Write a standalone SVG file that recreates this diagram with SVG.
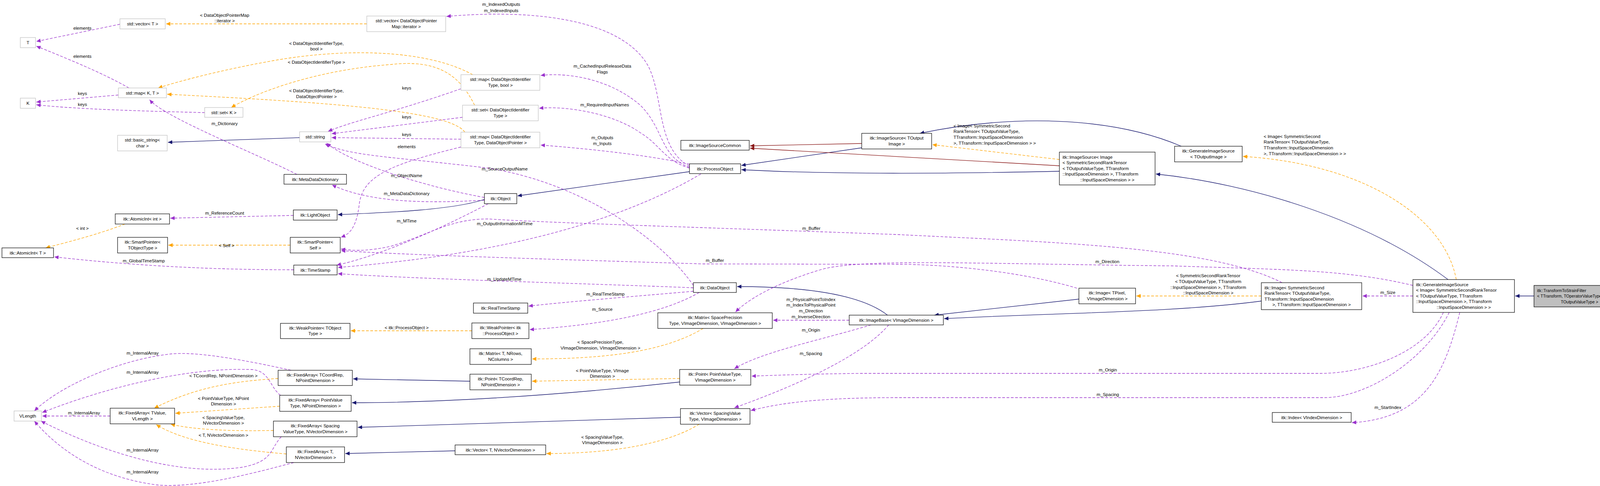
<svg xmlns="http://www.w3.org/2000/svg" width="4165" height="1243" viewBox="0 0 4165 1243">
<style>
text{font-family:"Liberation Sans",Arial,sans-serif;font-size:11.5px;fill:#000}
.n rect{fill:#fff;stroke:#000;stroke-width:1.2}
.g rect{fill:#fff;stroke:#bfbfbf;stroke-width:1.2}
.c{text-anchor:middle}
.e path{fill:none;stroke-width:1.3}
.u{stroke:#9a32cd;stroke-dasharray:7,4;marker-end:url(#mu)}
.t{stroke:#ffa500;stroke-dasharray:7,4;marker-end:url(#mt)}
.i{stroke:#191970;marker-end:url(#mi)}
.p{stroke:#8b1a1a;marker-end:url(#mp)}
.l text{text-anchor:middle}
.s text{font-size:10.5px}
</style>
<defs>
<marker id="mu" markerUnits="userSpaceOnUse" markerWidth="12" markerHeight="10" refX="11" refY="5" orient="auto"><path d="M0,0 L11,5 L0,10 z" fill="#9a32cd"/></marker>
<marker id="mt" markerUnits="userSpaceOnUse" markerWidth="12" markerHeight="10" refX="11" refY="5" orient="auto"><path d="M0,0 L11,5 L0,10 z" fill="#ffa500"/></marker>
<marker id="mi" markerUnits="userSpaceOnUse" markerWidth="12" markerHeight="10" refX="11" refY="5" orient="auto"><path d="M0,0 L11,5 L0,10 z" fill="#191970"/></marker>
<marker id="mp" markerUnits="userSpaceOnUse" markerWidth="12" markerHeight="10" refX="11" refY="5" orient="auto"><path d="M0,0 L11,5 L0,10 z" fill="#8b1a1a"/></marker>
</defs>
<rect width="4165" height="1243" fill="#fff"/>
<g id="connectors" class="e">
<path class="u" d="M307,62 L93,106"/>
<path class="u" d="M330,225 C260,185 160,145 93,118"/>
<path class="u" d="M303,243 L93,261"/>
<path class="u" d="M524,288 C400,285 200,280 93,268"/>
<path class="t" d="M939,61 L425,61"/>
<path class="t" d="M1210,191 C1100,130 900,120 700,155 C560,180 450,210 405,225"/>
<path class="t" d="M1215,269 C1180,200 1130,150 1000,165 C800,180 650,240 592,275"/>
<path class="t" d="M1190,338 C1150,280 800,260 428,241"/>
<path class="u" d="M760,446 C650,390 420,300 383,255"/>
<path class="i" d="M767,352 L430,364"/>
<path class="u" d="M1180,227 C1000,290 900,310 840,336"/>
<path class="u" d="M1184,300 L849,342"/>
<path class="u" d="M1180,356 L849,352"/>
<path class="u" d="M1180,376 C1000,420 930,450 920,520 C912,590 890,600 873,607"/>
<path class="u" d="M1240,505 C1100,480 900,420 836,366"/>
<path class="u" d="M1775,730 C1700,620 1500,470 1250,430 C1000,400 900,400 832,368"/>
<path class="u" d="M1240,512 C1100,520 950,520 850,473"/>
<path class="i" d="M1240,510 C1150,540 950,545 865,549"/>
<path class="i" d="M1765,439 L1325,501"/>
<path class="u" d="M751,551 L436,558"/>
<path class="t" d="M320,573 C250,600 170,620 117,634"/>
<path class="t" d="M743,627 L431,627"/>
<path class="u" d="M752,690 C500,690 300,675 139,657"/>
<path class="u" d="M1250,521 C1100,600 950,660 862,678"/>
<path class="u" d="M1794,445 C1600,560 1300,650 865,684"/>
<path class="u" d="M3282,723 C3100,630 2700,620 2300,600 C1900,585 1400,570 1250,560 C1150,560 1100,600 1000,630 C930,645 900,640 873,637"/>
<path class="u" d="M2757,737 C2600,690 2400,676 2300,676 L1800,675 C1300,660 1000,650 873,641"/>
<path class="u" d="M1775,736 C1500,725 1100,715 865,700"/>
<path class="u" d="M1775,745 C1600,760 1450,772 1353,783"/>
<path class="u" d="M1790,748 C1700,800 1550,830 1356,843"/>
<path class="t" d="M1208,846 L898,846"/>
<path class="i" d="M2272,806 C2200,750 2050,733 1887,733"/>
<path class="p" d="M2206,367 L1920,373"/>
<path class="i" d="M2206,378 L1898,423"/>
<path class="p" d="M2712,424 L1920,379"/>
<path class="i" d="M2712,438 C2400,445 2100,445 1898,434"/>
<path class="t" d="M2712,408 L2387,370"/>
<path class="i" d="M3024,374 C2850,300 2600,290 2355,341"/>
<path class="i" d="M3707,715 C3500,560 3200,470 2959,445"/>
<path class="t" d="M3728,715 C3700,560 3500,420 3182,400"/>
<path class="i" d="M3927,757 L3879,757"/>
<path class="u" d="M3617,757 L3488,757"/>
<path class="t" d="M3229,757 L2909,757"/>
<path class="i" d="M3229,770 C3000,800 2700,800 2417,815"/>
<path class="i" d="M2762,765 L2392,806"/>
<path class="u" d="M3617,730 C3450,690 3300,690 3000,680 C2500,675 2200,660 2100,690 C2000,720 1920,760 1883,798"/>
<path class="u" d="M2174,819 L1979,819"/>
<path class="u" d="M2230,831 C2100,870 1950,900 1880,943"/>
<path class="u" d="M2275,831 C2200,920 2000,1000 1880,1043"/>
<path class="u" d="M3695,799 C3650,900 3500,955 3380,955 L2200,955 C2050,957 1980,960 1924,962"/>
<path class="u" d="M3710,799 C3650,920 3500,1017 3390,1017 L2300,1017 C2100,1017 2000,1030 1922,1050"/>
<path class="u" d="M3737,799 C3700,950 3650,1070 3461,1081"/>
<path class="t" d="M1800,840 C1700,900 1550,918 1362,918"/>
<path class="t" d="M1740,968 L1362,975"/>
<path class="i" d="M1740,977 C1400,1015 1100,1030 901,1030"/>
<path class="i" d="M1742,1067 L916,1093"/>
<path class="t" d="M1790,1085 C1700,1140 1550,1160 1399,1160"/>
<path class="i" d="M1203,975 L904,969"/>
<path class="i" d="M1165,1153 L884,1160"/>
<path class="t" d="M712,968 C600,975 500,990 395,1044"/>
<path class="t" d="M716,1039 L449,1057"/>
<path class="t" d="M700,1101 C600,1103 500,1100 437,1085"/>
<path class="t" d="M733,1161 C600,1150 470,1130 400,1086"/>
<path class="u" d="M282,1064 L108,1064"/>
<path class="u" d="M745,947 C600,915 500,900 440,905 C300,920 150,990 88,1051"/>
<path class="u" d="M718,1011 C690,990 690,945 640,945 C500,940 300,980 108,1055"/>
<path class="u" d="M720,1117 C690,1150 700,1180 620,1195 C450,1220 250,1150 105,1077"/>
<path class="u" d="M752,1183 C650,1210 500,1250 400,1240 C250,1220 150,1150 88,1077"/>
<path class="u" d="M1765,425 C1680,380 1700,250 1660,170 C1600,60 1400,20 1143,42"/>
<path class="u" d="M1765,428 C1690,400 1700,330 1640,270 C1560,200 1450,185 1384,193"/>
<path class="u" d="M1765,430 C1700,410 1690,370 1640,340 C1570,290 1450,270 1380,277"/>
<path class="u" d="M1765,420 C1650,395 1500,380 1384,371"/>
</g>
<g id="labels" class="l">
<text x="211" y="76">elements</text>
<text x="211" y="148">elements</text>
<text x="211" y="243">keys</text>
<text x="211" y="271">keys</text>
<text x="575" y="43">&lt; DataObjectPointerMap</text><text x="575" y="57">::iterator &gt;</text>
<text x="810" y="115">&lt; DataObjectIdentifierType,</text><text x="810" y="129">bool &gt;</text>
<text x="810" y="163">&lt; DataObjectIdentifierType &gt;</text>
<text x="810" y="236">&lt; DataObjectIdentifierType,</text><text x="810" y="251">DataObjectPointer &gt;</text>
<text x="575" y="320">m_Dictionary</text>
<text x="1041" y="229">keys</text>
<text x="1041" y="303">keys</text>
<text x="1041" y="348">keys</text>
<text x="1041" y="379">elements</text>
<text x="1041" y="453">m_ObjectName</text>
<text x="1292" y="436">m_SourceOutputName</text>
<text x="1041" y="499">m_MetaDataDictionary</text>
<text x="575" y="549">m_ReferenceCount</text>
<text x="211" y="588">&lt; int &gt;</text>
<text x="580" y="632">&lt; Self &gt;</text>
<text x="368" y="671">m_GlobalTimeStamp</text>
<text x="1041" y="569">m_MTime</text>
<text x="1292" y="576">m_OutputInformationMTime</text>
<text x="2077" y="588">m_Buffer</text>
<text x="1830" y="670">m_Buffer</text>
<text x="1291" y="718">m_UpdateMTime</text>
<text x="1550" y="756">m_RealTimeStamp</text>
<text x="1542" y="795">m_Source</text>
<text x="1041" y="842">&lt; itk::ProcessObject &gt;</text>
<text x="1283" y="15">m_IndexedOutputs</text><text x="1283" y="31">m_IndexedInputs</text>
<text x="1542" y="173">m_CachedInputReleaseData</text><text x="1542" y="188">Flags</text>
<text x="1548" y="272">m_RequiredInputNames</text>
<text x="1542" y="356">m_Outputs</text><text x="1542" y="371">m_Inputs</text>
<text x="2441" y="326" style="text-anchor:start">&lt; Image&lt; SymmetricSecond</text>
<text x="2441" y="340" style="text-anchor:start">RankTensor&lt; TOutputValueType,</text>
<text x="2441" y="355" style="text-anchor:start"> TTransform::InputSpaceDimension</text>
<text x="2441" y="370" style="text-anchor:start">&gt;, TTransform::InputSpaceDimension &gt; &gt;</text>
<text x="3235" y="353" style="text-anchor:start">&lt; Image&lt; SymmetricSecond</text>
<text x="3235" y="367" style="text-anchor:start">RankTensor&lt; TOutputValueType,</text>
<text x="3235" y="382" style="text-anchor:start"> TTransform::InputSpaceDimension</text>
<text x="3235" y="397" style="text-anchor:start">&gt;, TTransform::InputSpaceDimension &gt; &gt;</text>
<text x="3553" y="752">m_Size</text>
<text x="3093" y="709">&lt; SymmetricSecondRankTensor</text>
<text x="3093" y="724">&lt; TOutputValueType, TTransform</text>
<text x="3093" y="739">::InputSpaceDimension &gt;, TTransform</text>
<text x="3093" y="753">::InputSpaceDimension &gt;</text>
<text x="2835" y="673">m_Direction</text>
<text x="2076" y="770">m_PhysicalPointToIndex</text><text x="2076" y="784">m_IndexToPhysicalPoint</text>
<text x="2076" y="799">m_Direction</text><text x="2076" y="814">m_InverseDirection</text>
<text x="2076" y="848">m_Origin</text>
<text x="2076" y="908">m_Spacing</text>
<text x="2836" y="950">m_Origin</text>
<text x="2836" y="1013">m_Spacing</text>
<text x="3553" y="1046">m_StartIndex</text>
<text x="1537" y="879">&lt; SpacePrecisionType,</text><text x="1537" y="894">VImageDimension, VImageDimension &gt;</text>
<text x="1542" y="952">&lt; PointValueType, VImage</text><text x="1542" y="966">Dimension &gt;</text>
<text x="1542" y="1122">&lt; SpacingValueType,</text><text x="1542" y="1136">VImageDimension &gt;</text>
<text x="572" y="965">&lt; TCoordRep, NPointDimension &gt;</text>
<text x="572" y="1023">&lt; PointValueType, NPoint</text><text x="572" y="1037">Dimension &gt;</text>
<text x="572" y="1072">&lt; SpacingValueType,</text><text x="572" y="1086">NVectorDimension &gt;</text>
<text x="572" y="1117">&lt; T, NVectorDimension &gt;</text>
<text x="215" y="1060">m_InternalArray</text>
<text x="365" y="907">m_InternalArray</text>
<text x="365" y="956">m_InternalArray</text>
<text x="365" y="1155">m_InternalArray</text>
<text x="365" y="1211">m_InternalArray</text>
</g>
<g id="T" class="g"><rect x="52" y="96" width="39" height="26"/><text class="c" x="71.5" y="113">T</text></g>
<g id="K" class="g"><rect x="52" y="251" width="39" height="26"/><text class="c" x="71.5" y="268">K</text></g>
<g id="vectorT" class="g"><rect x="307" y="48" width="116" height="26"/><text class="c" x="365" y="65">std::vector&lt; T &gt;</text></g>
<g id="mapKT" class="g"><rect x="303" y="225" width="123" height="25"/><text class="c" x="364.5" y="242">std::map&lt; K, T &gt;</text></g>
<g id="setK" class="g"><rect x="524" y="275" width="98" height="25"/><text class="c" x="573" y="292">std::set&lt; K &gt;</text></g>
<g id="basicstring" class="g"><rect x="301" y="346" width="127" height="40"/><text class="c" x="364.5" y="362">std::basic_string&lt;</text><text class="c" x="364.5" y="376.5">char &gt;</text></g>
<g id="stdstring" class="g"><rect x="767" y="337" width="80" height="26"/><text class="c" x="807" y="354">std::string</text></g>
<g id="MetaDataDictionary" class="n"><rect x="727" y="446" width="160" height="25"/><text class="c" x="807" y="463">itk::MetaDataDictionary</text></g>
<g id="AtomicIntInt" class="n"><rect x="295" y="547" width="139" height="26"/><text class="c" x="364.5" y="564">itk::AtomicInt&lt; int &gt;</text></g>
<g id="LightObject" class="n"><rect x="751" y="537" width="112" height="26"/><text class="c" x="807" y="554">itk::LightObject</text></g>
<g id="SmartPointerT" class="n"><rect x="301" y="607" width="128" height="40"/><text class="c" x="365" y="623">itk::SmartPointer&lt;</text><text class="c" x="365" y="637.5">TObjectType &gt;</text></g>
<g id="SmartPointerSelf" class="n"><rect x="743" y="607" width="128" height="40"/><text class="c" x="807" y="623">itk::SmartPointer&lt;</text><text class="c" x="807" y="637.5">Self &gt;</text></g>
<g id="AtomicIntT" class="n"><rect x="5" y="634" width="132" height="25"/><text class="c" x="71" y="651">itk::AtomicInt&lt; T &gt;</text></g>
<g id="TimeStamp" class="n"><rect x="752" y="678" width="111" height="25"/><text class="c" x="807.5" y="695">itk::TimeStamp</text></g>
<g id="WeakPointerT" class="n"><rect x="718" y="827" width="178" height="39"/><text class="c" x="807" y="842.5">itk::WeakPointer&lt; TObject</text><text class="c" x="807" y="857">Type &gt;</text></g>
<g id="VLength" class="g"><rect x="36" y="1051" width="70" height="26"/><text class="c" x="71" y="1068">VLength</text></g>
<g id="FATValue" class="n"><rect x="282" y="1044" width="165" height="40"/><text class="c" x="364.5" y="1060">itk::FixedArray&lt; TValue,</text><text class="c" x="364.5" y="1074.5">VLength &gt;</text></g>
<g id="FATCoordRep" class="n"><rect x="712" y="947" width="190" height="39"/><text class="c" x="807" y="962.5">itk::FixedArray&lt; TCoordRep,</text><text class="c" x="807" y="977">NPointDimension &gt;</text></g>
<g id="FAPointValue" class="n"><rect x="716" y="1011" width="183" height="41"/><text class="c" x="807.5" y="1027">itk::FixedArray&lt; PointValue</text><text class="c" x="807.5" y="1041.5">Type, NPointDimension &gt;</text></g>
<g id="FASpacing" class="n"><rect x="700" y="1077" width="214" height="40"/><text class="c" x="807" y="1093">itk::FixedArray&lt; Spacing</text><text class="c" x="807" y="1107.5">ValueType, NVectorDimension &gt;</text></g>
<g id="FATNVec" class="n"><rect x="733" y="1143" width="149" height="40"/><text class="c" x="807.5" y="1159">itk::FixedArray&lt; T,</text><text class="c" x="807.5" y="1173.5">NVectorDimension &gt;</text></g>
<g id="vectorDOPM" class="g"><rect x="939" y="41" width="202" height="40"/><text class="c" x="1040" y="57">std::vector&lt; DataObjectPointer</text><text class="c" x="1040" y="71.5">Map::iterator &gt;</text></g>
<g id="mapBool" class="g"><rect x="1180" y="191" width="202" height="40"/><text class="c" x="1281" y="207">std::map&lt; DataObjectIdentifier</text><text class="c" x="1281" y="221.5">Type, bool &gt;</text></g>
<g id="setDOIT" class="g"><rect x="1184" y="269" width="194" height="40"/><text class="c" x="1281" y="285">std::set&lt; DataObjectIdentifier</text><text class="c" x="1281" y="299.5">Type &gt;</text></g>
<g id="mapDOP" class="g"><rect x="1180" y="338" width="202" height="40"/><text class="c" x="1281" y="354">std::map&lt; DataObjectIdentifier</text><text class="c" x="1281" y="368.5">Type, DataObjectPointer &gt;</text></g>
<g id="Object" class="n"><rect x="1240" y="495" width="83" height="26"/><text class="c" x="1281.5" y="512">itk::Object</text></g>
<g id="ProcessObject" class="n"><rect x="1765" y="419" width="131" height="25"/><text class="c" x="1830.5" y="436">itk::ProcessObject</text></g>
<g id="ImageSourceCommon" class="n"><rect x="1743" y="359" width="175" height="25"/><text class="c" x="1830.5" y="376">itk::ImageSourceCommon</text></g>
<g id="DataObject" class="n"><rect x="1775" y="723" width="110" height="25"/><text class="c" x="1830" y="740">itk::DataObject</text></g>
<g id="RealTimeStamp" class="n"><rect x="1212" y="775" width="139" height="26"/><text class="c" x="1281.5" y="792">itk::RealTimeStamp</text></g>
<g id="WeakPointerPO" class="n"><rect x="1208" y="826" width="146" height="40"/><text class="c" x="1281" y="842">itk::WeakPointer&lt; itk</text><text class="c" x="1281" y="856.5">::ProcessObject &gt;</text></g>
<g id="MatrixT" class="n"><rect x="1203" y="892" width="157" height="40"/><text class="c" x="1281.5" y="908">itk::Matrix&lt; T, NRows,</text><text class="c" x="1281.5" y="922.5">NColumns &gt;</text></g>
<g id="PointTCoordRep" class="n"><rect x="1203" y="957" width="157" height="40"/><text class="c" x="1281.5" y="973">itk::Point&lt; TCoordRep,</text><text class="c" x="1281.5" y="987.5">NPointDimension &gt;</text></g>
<g id="VectorTNVec" class="n"><rect x="1165" y="1138" width="232" height="25"/><text class="c" x="1281" y="1155">itk::Vector&lt; T, NVectorDimension &gt;</text></g>
<g id="MatrixSP" class="n"><rect x="1684" y="800" width="293" height="40"/><text class="c" x="1830.5" y="816">itk::Matrix&lt; SpacePrecision</text><text class="c" x="1830.5" y="830.5">Type, VImageDimension, VImageDimension &gt;</text></g>
<g id="PointPV" class="n"><rect x="1740" y="945" width="182" height="40"/><text class="c" x="1831" y="961">itk::Point&lt; PointValueType,</text><text class="c" x="1831" y="975.5">VImageDimension &gt;</text></g>
<g id="VectorSV" class="n"><rect x="1742" y="1045" width="178" height="40"/><text class="c" x="1831" y="1061">itk::Vector&lt; SpacingValue</text><text class="c" x="1831" y="1075.5">Type, VImageDimension &gt;</text></g>
<g id="ImageSourceTOut" class="n"><rect x="2206" y="341" width="179" height="40"/><text class="c" x="2295.5" y="357">itk::ImageSource&lt; TOutput</text><text class="c" x="2295.5" y="371.5">Image &gt;</text></g>
<g id="ImageSourceImage" class="n"><rect x="2712" y="389" width="245" height="84"/><text x="2720" y="405.8">itk::ImageSource&lt; Image</text><text x="2720" y="420.3">&lt; SymmetricSecondRankTensor</text><text x="2720" y="434.8">&lt; TOutputValueType, TTransform</text><text x="2720" y="449.3">::InputSpaceDimension &gt;, TTransform</text><text class="c" x="2834.5" y="463.8">::InputSpaceDimension &gt; &gt;</text></g>
<g id="ImageBase" class="n"><rect x="2174" y="806" width="241" height="25"/><text class="c" x="2294.5" y="823">itk::ImageBase&lt; VImageDimension &gt;</text></g>
<g id="GISTOut" class="n"><rect x="3007" y="374" width="173" height="40"/><text class="c" x="3093.5" y="390">itk::GenerateImageSource</text><text class="c" x="3093.5" y="404.5">&lt; TOutputImage &gt;</text></g>
<g id="ImageTPixel" class="n"><rect x="2762" y="737" width="145" height="40"/><text class="c" x="2834.5" y="753">itk::Image&lt; TPixel,</text><text class="c" x="2834.5" y="767.5">VImageDimension &gt;</text></g>
<g id="ImageSSRT" class="n"><rect x="3229" y="723" width="257" height="69"/><text x="3237" y="739.5">itk::Image&lt; SymmetricSecond</text><text x="3237" y="754">RankTensor&lt; TOutputValueType,</text><text x="3237" y="768.5"> TTransform::InputSpaceDimension</text><text class="c" x="3357.5" y="783">&gt;, TTransform::InputSpaceDimension &gt;</text></g>
<g id="GISImage" class="n"><rect x="3617" y="715" width="260" height="84"/><text x="3625" y="731.8">itk::GenerateImageSource</text><text x="3625" y="746.3">&lt; Image&lt; SymmetricSecondRankTensor</text><text x="3625" y="760.8">&lt; TOutputValueType, TTransform</text><text x="3625" y="775.3">::InputSpaceDimension &gt;, TTransform</text><text class="c" x="3747" y="789.8">::InputSpaceDimension &gt; &gt;</text></g>
<g id="TransformToStrainFilter" class="n s"><rect x="3927" y="730" width="233" height="55" style="fill:#bfbfbf"/><text x="3935" y="746.8">itk::TransformToStrainFilter</text><text x="3935" y="761.3">&lt; TTransform, TOperatorValueType,</text><text class="c" x="4043.5" y="775.8">TOutputValueType &gt;</text></g>
<g id="Index" class="n"><rect x="3257" y="1055" width="202" height="25"/><text class="c" x="3358" y="1072">itk::Index&lt; VIndexDimension &gt;</text></g>
</svg>
